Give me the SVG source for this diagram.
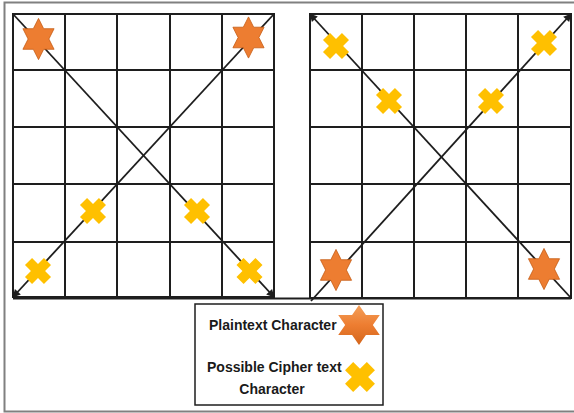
<svg xmlns="http://www.w3.org/2000/svg" xmlns:xlink="http://www.w3.org/1999/xlink" width="574" height="413" viewBox="0 0 574 413">
<style>
.grid{stroke:#1e1e1e;stroke-width:2;fill:none}
.diag{stroke:#1e1e1e;stroke-width:1.8;fill:none}
.frame{stroke:#808080;stroke-width:2;fill:none}
.lbl{font-family:"Liberation Sans",Arial,sans-serif;font-weight:bold;font-size:14px;fill:#1a1a1a}
.star{fill:#ED7D31;stroke:#C55A11;stroke-width:0.8}
.cross{fill:#FFC000}
</style>
<defs>
<marker id="arr" viewBox="0 0 10 10" refX="9" refY="5" markerWidth="9" markerHeight="8" markerUnits="userSpaceOnUse" orient="auto">
<path d="M0,0 L10,5 L0,10 z" fill="#1e1e1e"/>
</marker>
<polygon id="star" points="0,-20 5.77,-10 17.32,-10 11.55,0 17.32,10 5.77,10 0,20 -5.77,10 -17.32,10 -11.55,0 -17.32,-10 -5.77,-10"/>
<g id="xs"><polygon points="5,-13.4 5,-5 13.4,-5 13.4,5 5,5 5,13.4 -5,13.4 -5,5 -13.4,5 -13.4,-5 -5,-5 -5,-13.4" transform="rotate(45)"/></g>
<linearGradient id="sg" x1="0" y1="0" x2="0" y2="1">
<stop offset="0" stop-color="#F4A05A"/>
<stop offset="0.5" stop-color="#ED7D31"/>
<stop offset="1" stop-color="#D4661C"/>
</linearGradient>
</defs>
<rect width="574" height="413" fill="#ffffff"/>
<path class="frame" d="M574,2.5 H4.5 V411.5 H574"/>

<g id="grid-left">
<rect class="grid" x="13" y="14" width="261" height="283"/>
<path class="grid" d="M65,14V297 M117,14V297 M170,14V297 M222,14V297 M13,70H274 M13,127H274 M13,184H274 M13,242H274"/>
</g>
<g id="grid-right">
<rect class="grid" x="310" y="14" width="261" height="284"/>
<path class="grid" d="M362,14V298 M414,14V298 M466,14V298 M518,14V298 M310,70H571 M310,127H571 M310,184H571 M310,242H571"/>
</g>
<path class="grid" d="M13,298.5H571" stroke-width="1.5"/>

<g id="connectors">
<line class="diag" x1="13" y1="14" x2="274" y2="297" marker-end="url(#arr)"/>
<line class="diag" x1="274" y1="14" x2="13" y2="297" marker-end="url(#arr)"/>
<line class="diag" x1="571" y1="298" x2="310" y2="14" marker-end="url(#arr)"/>
<line class="diag" x1="311" y1="301" x2="571" y2="14" marker-end="url(#arr)"/>
</g>

<g id="left-symbols">
<use href="#star" class="star" transform="translate(38.5,39) scale(0.9,1.03)"/>
<use href="#star" class="star" transform="translate(248.5,37.5) scale(0.9,1.03)"/>
<use href="#xs" class="cross" transform="translate(93,211)"/>
<use href="#xs" class="cross" transform="translate(197,211)"/>
<use href="#xs" class="cross" transform="translate(38,271)"/>
<use href="#xs" class="cross" transform="translate(249.5,271)"/>
</g>
<g id="right-symbols">
<use href="#xs" class="cross" transform="translate(336,46)"/>
<use href="#xs" class="cross" transform="translate(544,43)"/>
<use href="#xs" class="cross" transform="translate(389,101)"/>
<use href="#xs" class="cross" transform="translate(491,101)"/>
<use href="#star" class="star" transform="translate(336,270) scale(0.9,1.03)"/>
<use href="#star" class="star" transform="translate(544,269) scale(0.9,1.03)"/>
</g>
<g id="legend">
<rect x="195" y="304" width="188" height="101" fill="#ffffff" stroke="#1e1e1e" stroke-width="1.5"/>
<text class="lbl" x="209" y="330">Plaintext Character</text>
<use href="#star" transform="translate(359,325) scale(1.2,1.0)" fill="url(#sg)"/>
<text class="lbl" x="207" y="372">Possible Cipher text</text>
<text class="lbl" x="272" y="394" text-anchor="middle">Character</text>
<use href="#xs" class="cross" transform="translate(360,377) scale(1.15)"/>
</g>
</svg>
